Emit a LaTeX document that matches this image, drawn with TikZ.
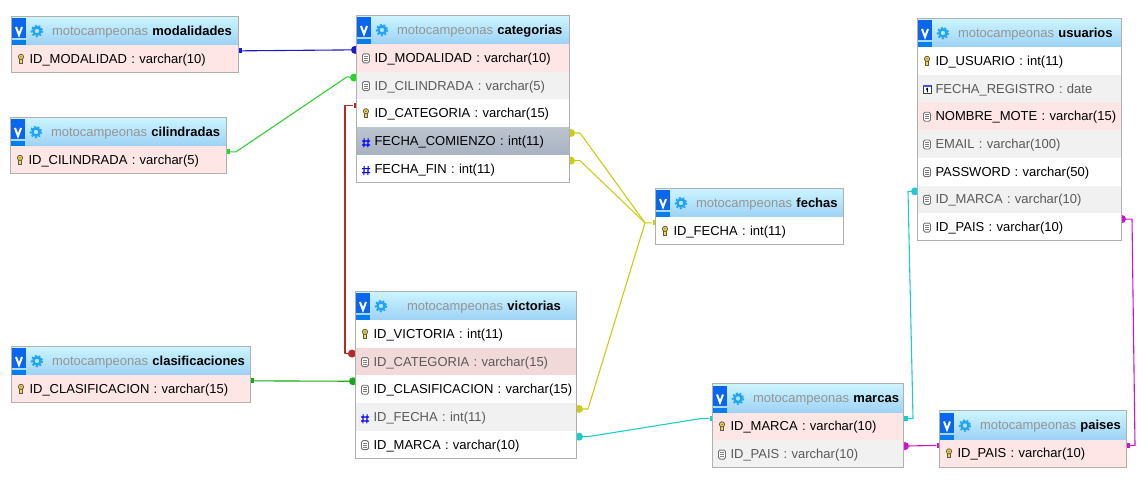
\documentclass[tikz,border=0pt]{standalone}
\usepackage{fontspec}
\setmainfont{Liberation Sans}
\usetikzlibrary{positioning, backgrounds}

\definecolor{headtop}{HTML}{CDF5FF}
\definecolor{headbot}{HTML}{9DD2F5}
\definecolor{pkfill}{HTML}{FEE6E6}
\definecolor{greyfill}{HTML}{F1F1F1}
\definecolor{hotfill}{HTML}{F2D9D9}
\definecolor{marktop}{HTML}{BCC4CF}
\definecolor{markbot}{HTML}{A8B2C1}
\definecolor{edgegrey}{HTML}{B0B0B0}
\definecolor{iconblue}{HTML}{0A66EE}
\definecolor{gearblue}{HTML}{22A4F4}
\definecolor{linkblue}{HTML}{1A1ACC}
\definecolor{linklime}{HTML}{2ED22E}
\definecolor{linkgreen}{HTML}{16A816}
\definecolor{linkred}{HTML}{B82828}
\definecolor{linkyellow}{HTML}{CCCC14}
\definecolor{linkcyan}{HTML}{1CCCCC}
\definecolor{linkpink}{HTML}{CC14CC}

\tikzset{
  cell/.style={anchor=north west, rectangle, outer sep=0pt, inner xsep=0pt, inner ysep=0pt,
    minimum width=#1pt, text width=#1pt, minimum height=27.7pt, text height=11pt, text depth=2pt,
    font=\fontsize{13}{15}\selectfont},
  tabletitle/.style={cell=#1, minimum height=29pt, top color=headtop, bottom color=headbot,
    execute at begin node={\hspace*{41pt}}},
  tablerow/.style={cell=#1, anchor=north, execute at begin node={\hspace*{18.5pt}}},
  plainrow/.style={tablerow=#1, fill=white},
  pkrow/.style={tablerow=#1, fill=pkfill},
  greyrow/.style={tablerow=#1, fill=greyfill, text=black!65},
  hotrow/.style={tablerow=#1, fill=hotfill, text=black!65},
  markrow/.style={tablerow=#1, top color=marktop, bottom color=markbot},
  tableedge/.style={draw=edgegrey, line width=1pt},
  fkdot/.style={circle, fill=#1, inner sep=0pt, minimum size=8pt, yshift=8pt},
  pksquare/.style={rectangle, fill=#1, inner sep=0pt, minimum size=5pt, yshift=8pt},
  link/.style={draw=#1, line width=1.1pt, line join=round},
  pics/viewicon/.style={code={
    \fill[iconblue] (1,2) rectangle (15,22);
    \fill[iconblue!85!cyan] (1,24) rectangle (15,29);
    \draw[white, line width=2pt] (5,11) -- (8,19) -- (11,11);
    \draw[gearblue, line width=2.4pt] (26,15) circle (3.6);
    \draw[gearblue, line width=1.4pt, dash pattern=on 2pt off 1.9pt] (26,15) circle (5.6);
  }},
  pics/keyicon/.style={code={
    \draw[black!65, fill=yellow!70!orange!80, line width=0.8pt] (-1.5,0) -- (-1.5,4.5) -- (1.5,4.5) -- (1.5,0);
    \draw[black!65, fill=yellow!70!orange!80, line width=0.8pt] (0,-2) circle (2.6);
    \fill[black!60] (0,-2) circle (0.8);
  }},
  pics/fieldicon/.style={code={
    \draw[black!55, fill=white, rounded corners=1.5pt, line width=0.9pt] (-3.5,-4) rectangle (3.5,5);
    \foreach \liney in {-1.5,0.5,2.5} \draw[black!50, line width=0.8pt] (-2,\liney) -- (2,\liney);
  }},
  pics/numicon/.style={code={
    \draw[blue, line width=1.1pt] (-1.8,-2.5) -- (-2.2,6.5) (2.2,-2.5) -- (1.8,6.5) (-4,0) -- (4,0) (-4,4) -- (4,4);
  }},
  pics/dateicon/.style={code={
    \draw[black!75, fill=white, line width=0.9pt] (-4,-3) rectangle (4,5);
    \fill[blue!70] (-4,-3.5) rectangle (4,-1.2);
    \draw[black, line width=1pt] (-1,0.8) -- (0.3,0) -- (0.3,3.8);
  }},
}

\begin{document}
\begin{tikzpicture}[x=1pt, y=-1pt]
  \useasboundingbox (0,0) rectangle (1148,483);

  % tables
  \node[tabletitle=227] (modalidades) at (11,16) {\textcolor{black!42}{motocampeonas} \textbf{modalidades}};
  \node[pkrow=227, below=0pt of modalidades] (modalidades-id) {ID\_MODALIDAD : varchar(10)};

  \node[tabletitle=216] (cilindradas) at (10,117) {\textcolor{black!42}{motocampeonas} \textbf{cilindradas}};
  \node[pkrow=216, below=0pt of cilindradas] (cilindradas-id) {ID\_CILINDRADA : varchar(5)};

  \node[tabletitle=239] (clasificaciones) at (11,346) {\textcolor{black!42}{motocampeonas} \textbf{clasificaciones}};
  \node[pkrow=239, below=0pt of clasificaciones] (clasificaciones-id) {ID\_CLASIFICACION : varchar(15)};

  \node[tabletitle=213] (categorias) at (356,15) {\textcolor{black!42}{motocampeonas} \textbf{categorias}};
  \node[pkrow=213, below=0pt of categorias] (categorias-modalidad) {ID\_MODALIDAD : varchar(10)};
  \node[greyrow=213, below=0pt of categorias-modalidad] (categorias-cilindrada) {ID\_CILINDRADA : varchar(5)};
  \node[plainrow=213, below=0pt of categorias-cilindrada] (categorias-id) {ID\_CATEGORIA : varchar(15)};
  \node[markrow=213, below=0pt of categorias-id] (categorias-comienzo) {FECHA\_COMIENZO : int(11)};
  \node[plainrow=213, below=0pt of categorias-comienzo] (categorias-fin) {FECHA\_FIN : int(11)};

  \node[tabletitle=221] (victorias) at (355,291) {\hspace*{11pt}\textcolor{black!42}{motocampeonas} \textbf{victorias}};
  \node[plainrow=221, below=0pt of victorias] (victorias-id) {ID\_VICTORIA : int(11)};
  \node[hotrow=221, below=0pt of victorias-id] (victorias-categoria) {ID\_CATEGORIA : varchar(15)};
  \node[plainrow=221, below=0pt of victorias-categoria] (victorias-clasificacion) {ID\_CLASIFICACION : varchar(15)};
  \node[greyrow=221, below=0pt of victorias-clasificacion] (victorias-fecha) {ID\_FECHA : int(11)};
  \node[plainrow=221, below=0pt of victorias-fecha] (victorias-marca) {ID\_MARCA : varchar(10)};

  \node[tabletitle=188] (fechas) at (655,188) {\textcolor{black!42}{motocampeonas} \textbf{fechas}};
  \node[plainrow=188, below=0pt of fechas] (fechas-id) {ID\_FECHA : int(11)};

  \node[tabletitle=191] (marcas) at (712,383.5) {\textcolor{black!42}{motocampeonas} \textbf{marcas}};
  \node[pkrow=191, below=0pt of marcas] (marcas-id) {ID\_MARCA : varchar(10)};
  \node[greyrow=191, below=0pt of marcas-id] (marcas-pais) {ID\_PAIS : varchar(10)};

  \node[tabletitle=187] (paises) at (939,410.5) {\textcolor{black!42}{motocampeonas} \textbf{paises}};
  \node[pkrow=187, below=0pt of paises] (paises-id) {ID\_PAIS : varchar(10)};

  \node[tabletitle=204] (usuarios) at (917,18) {\textcolor{black!42}{motocampeonas} \textbf{usuarios}};
  \node[plainrow=204, below=0pt of usuarios] (usuarios-id) {ID\_USUARIO : int(11)};
  \node[greyrow=204, below=0pt of usuarios-id] (usuarios-registro) {FECHA\_REGISTRO : date};
  \node[pkrow=204, below=0pt of usuarios-registro] (usuarios-nombre) {NOMBRE\_MOTE : varchar(15)};
  \node[greyrow=204, below=0pt of usuarios-nombre] (usuarios-email) {EMAIL : varchar(100)};
  \node[plainrow=204, below=0pt of usuarios-email] (usuarios-password) {PASSWORD : varchar(50)};
  \node[greyrow=204, below=0pt of usuarios-password] (usuarios-marca) {ID\_MARCA : varchar(10)};
  \node[plainrow=204, below=0pt of usuarios-marca] (usuarios-pais) {ID\_PAIS : varchar(10)};

  % borders and icons
  \foreach \tname/\lastrow in {modalidades/modalidades-id, cilindradas/cilindradas-id,
      clasificaciones/clasificaciones-id, categorias/categorias-fin, victorias/victorias-marca,
      fechas/fechas-id, marcas/marcas-pais, paises/paises-id, usuarios/usuarios-pais} {
    \draw[tableedge] (\tname.north west) rectangle (\lastrow.south east);
    \pic at (\tname.north west) {viewicon};
  }
  \foreach \rowname in {modalidades-id, cilindradas-id, clasificaciones-id, categorias-id, victorias-id,
      fechas-id, marcas-id, paises-id, usuarios-id}
    \pic at ([xshift=10pt]\rowname.west) {keyicon};
  \foreach \rowname in {categorias-modalidad, categorias-cilindrada, victorias-categoria, victorias-clasificacion,
      victorias-marca, marcas-pais, usuarios-nombre, usuarios-email, usuarios-password, usuarios-marca, usuarios-pais}
    \pic at ([xshift=10pt]\rowname.west) {fieldicon};
  \foreach \rowname in {categorias-comienzo, categorias-fin, victorias-fecha}
    \pic at ([xshift=10pt]\rowname.west) {numicon};
  \pic at ([xshift=10pt]usuarios-registro.west) {dateicon};

  % relations, behind the tables
  \begin{pgfonlayer}{background}
    \node[pksquare=linkblue] (pk-modalidad) at ([xshift=1pt]modalidades-id.east) {};
    \node[fkdot=linkblue] (fk-modalidad) at ([xshift=-1pt]categorias-modalidad.west) {};
    \draw[link=linkblue] (pk-modalidad) -- (fk-modalidad);

    \node[pksquare=linklime] (pk-cilindrada) at ([xshift=1pt]cilindradas-id.east) {};
    \node[fkdot=linklime] (fk-cilindrada) at ([xshift=-2pt]categorias-cilindrada.west) {};
    \draw[link=linklime] (pk-cilindrada) -- ++(9,0) -- ++(111,-75) -- (fk-cilindrada);

    \node[pksquare=linkred] (pk-categoria) at (categorias-id.west) {};
    \node[fkdot=linkred] (fk-categoria) at ([xshift=-3pt]victorias-categoria.west) {};
    \draw[link=linkred] (fk-categoria) -| ([xshift=-11pt]pk-categoria.center) -- (pk-categoria);

    \node[pksquare=linkgreen] (pk-clasificacion) at ([xshift=1pt]clasificaciones-id.east) {};
    \node[fkdot=linkgreen] (fk-clasificacion) at ([xshift=-2pt]victorias-clasificacion.west) {};
    \draw[link=linkgreen] (pk-clasificacion) -- (fk-clasificacion);

    \node[pksquare=linkyellow] (pk-fecha) at (fechas-id.west) {};
    \coordinate (fecha-hub) at ([xshift=-10pt]pk-fecha.center);
    \node[fkdot=linkyellow] (fk-comienzo) at ([xshift=2pt]categorias-comienzo.east) {};
    \node[fkdot=linkyellow] (fk-fin) at ([xshift=2pt]categorias-fin.east) {};
    \node[fkdot=linkyellow] (fk-fecha) at ([xshift=3pt]victorias-fecha.east) {};
    \draw[link=linkyellow] (fk-comienzo) -- ++(9,0) -- (fecha-hub) -- (pk-fecha);
    \draw[link=linkyellow] (fk-fin) -- ++(9,0) -- (fecha-hub);
    \draw[link=linkyellow] (fk-fecha) -- ++(9,0) -- (fecha-hub);

    \node[pksquare=linkcyan] (pk-marca-l) at (marcas-id.west) {};
    \node[pksquare=linkcyan] (pk-marca-r) at ([xshift=2pt]marcas-id.east) {};
    \node[fkdot=linkcyan] (fk-marca-v) at ([xshift=3pt]victorias-marca.east) {};
    \node[fkdot=linkcyan] (fk-marca-u) at ([xshift=-2pt]usuarios-marca.west) {};
    \draw[link=linkcyan] (fk-marca-v) -- ++(9,0) -- ([xshift=-10pt]pk-marca-l.center) -- (pk-marca-l);
    \draw[link=linkcyan] (pk-marca-r) -- ++(8,0) -- ([xshift=-7pt]fk-marca-u.center) -- (fk-marca-u);

    \node[pksquare=linkpink] (pk-pais-l) at (paises-id.west) {};
    \node[pksquare=linkpink] (pk-pais-r) at ([xshift=1pt]paises-id.east) {};
    \node[fkdot=linkpink] (fk-pais-m) at ([xshift=2pt]marcas-pais.east) {};
    \node[fkdot=linkpink] (fk-pais-u) at ([xshift=1pt]usuarios-pais.east) {};
    \draw[link=linkpink] (fk-pais-m) -- (pk-pais-l);
    \draw[link=linkpink] (pk-pais-r) -- ++(8,0) -- ([xshift=10pt]fk-pais-u.center) -- (fk-pais-u);
  \end{pgfonlayer}
\end{tikzpicture}
\end{document}
